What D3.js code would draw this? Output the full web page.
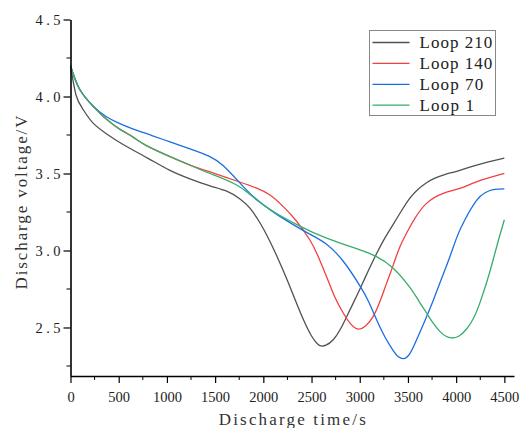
<!DOCTYPE html>
<html>
<head>
<meta charset="utf-8">
<script src="https://cdn.jsdelivr.net/npm/d3@7"></script>
<style>
  body { margin: 0; background: #fff; }
  svg { display: block; }
</style>
</head>
<body>
<div id="chart"></div>
<script>
/* DATA */
const loop210Time = [0, 57, 126, 230, 368, 541, 800, 1032, 1239, 1446, 1620, 1758, 1861, 1965, 2060, 2150, 2240, 2330, 2420, 2500, 2560, 2600, 2650, 2725, 2800, 2864, 2930, 3002, 3090, 3175, 3260, 3347, 3430, 3520, 3600, 3693, 3780, 3866, 3950, 4039, 4212, 4500];
const loop210Volt = [4.20, 4.01, 3.92, 3.83, 3.76, 3.69, 3.60, 3.52, 3.465, 3.42, 3.385, 3.335, 3.275, 3.18, 3.07, 2.95, 2.82, 2.68, 2.545, 2.445, 2.395, 2.38, 2.385, 2.42, 2.49, 2.57, 2.655, 2.75, 2.87, 2.98, 3.08, 3.17, 3.255, 3.34, 3.395, 3.44, 3.47, 3.49, 3.505, 3.52, 3.555, 3.60];

const loop140Time = [0, 92, 230, 368, 506, 645, 783, 1032, 1239, 1446, 1740, 1931, 2069, 2207, 2345, 2483, 2570, 2656, 2740, 2829, 2910, 2985, 3060, 3140, 3210, 3279, 3350, 3417, 3500, 3572, 3693, 3866, 4039, 4212, 4500];
const loop140Volt = [4.20, 4.05, 3.94, 3.855, 3.79, 3.738, 3.683, 3.61, 3.555, 3.51, 3.448, 3.405, 3.36, 3.285, 3.19, 3.068, 2.96, 2.83, 2.70, 2.594, 2.52, 2.49, 2.51, 2.572, 2.67, 2.788, 2.91, 3.025, 3.13, 3.209, 3.306, 3.371, 3.403, 3.446, 3.50];

const loop70Time = [0, 92, 230, 368, 506, 645, 852, 1032, 1239, 1446, 1585, 1740, 1896, 2069, 2200, 2345, 2500, 2656, 2829, 3002, 3090, 3175, 3260, 3347, 3400, 3458, 3520, 3590, 3680, 3762, 3850, 3935, 4010, 4091, 4212, 4300, 4384, 4500];
const loop70Volt = [4.20, 4.05, 3.94, 3.87, 3.825, 3.79, 3.745, 3.705, 3.66, 3.61, 3.55, 3.45, 3.35, 3.265, 3.21, 3.155, 3.10, 3.04, 2.93, 2.77, 2.67, 2.55, 2.44, 2.35, 2.31, 2.298, 2.33, 2.42, 2.55, 2.675, 2.82, 2.96, 3.09, 3.20, 3.325, 3.375, 3.395, 3.40];

const loop1Time = [0, 92, 230, 368, 506, 645, 783, 1032, 1239, 1446, 1723, 1931, 2138, 2373, 2656, 3002, 3175, 3347, 3520, 3610, 3693, 3760, 3831, 3890, 3952, 4030, 4108, 4180, 4246, 4320, 4384, 4440, 4500];
const loop1Volt = [4.20, 4.05, 3.94, 3.855, 3.79, 3.738, 3.683, 3.61, 3.555, 3.50, 3.425, 3.328, 3.24, 3.16, 3.08, 3.004, 2.96, 2.885, 2.76, 2.675, 2.594, 2.53, 2.475, 2.445, 2.432, 2.445, 2.49, 2.56, 2.66, 2.80, 2.94, 3.07, 3.20];

const seriesNames = ["Loop 210", "Loop 140", "Loop 70", "Loop 1"];
const seriesColors = ["#515151", "#F14040", "#1A6FDF", "#37AD6B"];

const xTicks = [0, 500, 1000, 1500, 2000, 2500, 3000, 3500, 4000, 4500];
const xMinor = [250, 750, 1250, 1750, 2250, 2750, 3250, 3750, 4250];
const yTicks = [2.5, 3.0, 3.5, 4.0, 4.5];
const yMinor = [2.25, 2.75, 3.25, 3.75, 4.25];

const xTitle = "Discharge time/s";
const yTitle = "Discharge voltage/V";

/* LAYOUT */
const width = 519, height = 428;
const margin = { left: 70.5, right: 514, top: 19.5, bottom: 376 };
const fontName = "'Liberation Serif', 'DejaVu Serif', serif";

const series = [
  { name: seriesNames[0], color: seriesColors[0], values: loop210Time.map((t, i) => ({ t, v: loop210Volt[i] })) },
  { name: seriesNames[1], color: seriesColors[1], values: loop140Time.map((t, i) => ({ t, v: loop140Volt[i] })) },
  { name: seriesNames[2], color: seriesColors[2], values: loop70Time.map((t, i) => ({ t, v: loop70Volt[i] })) },
  { name: seriesNames[3], color: seriesColors[3], values: loop1Time.map((t, i) => ({ t, v: loop1Volt[i] })) }
];

const svg = d3.select("#chart").append("svg")
  .attr("width", width)
  .attr("height", height);

const xScale = d3.scaleLinear().domain([0, 4600]).range([margin.left, margin.right]);
const yScale = d3.scaleLinear().domain([2.185, 4.5]).range([margin.bottom, margin.top]);

// lines first, axes drawn on top
const lineFunc = d3.line()
  .x(d => xScale(d.t))
  .y(d => yScale(d.v))
  .curve(d3.curveNatural);

svg.append("g")
  .selectAll("path")
  .data(series)
  .join("path")
  .attr("fill", "none")
  .attr("stroke", d => d.color)
  .attr("stroke-width", 1.3)
  .attr("d", d => lineFunc(d.values));

// x axis
const xAxis = svg.append("g")
  .attr("transform", `translate(0,${margin.bottom})`)
  .call(d3.axisBottom(xScale).tickValues(xTicks).tickSize(7).tickSizeOuter(0).tickPadding(9).tickFormat(d3.format("d")));

xAxis.append("g")
  .selectAll("line")
  .data(xMinor)
  .join("line")
  .attr("x1", d => xScale(d)).attr("x2", d => xScale(d))
  .attr("y1", 0).attr("y2", 4)
  .attr("stroke", "#000");

// y axis
const yAxis = svg.append("g")
  .attr("transform", `translate(${margin.left},0)`)
  .call(d3.axisLeft(yScale).tickValues(yTicks).tickSize(7).tickSizeOuter(0).tickPadding(3).tickFormat(d3.format(".1f")));

yAxis.append("g")
  .selectAll("line")
  .data(yMinor)
  .join("line")
  .attr("y1", d => yScale(d)).attr("y2", d => yScale(d))
  .attr("x1", 0).attr("x2", -4)
  .attr("stroke", "#000");

[xAxis, yAxis].forEach(ax => {
  ax.select(".domain").attr("stroke", "#000").attr("stroke-width", 1.6);
  ax.selectAll(".tick line").attr("stroke", "#000").attr("stroke-width", 1.2);
  ax.selectAll(".tick text")
    .attr("font-family", fontName)
    .attr("font-size", 14.5)
    .attr("fill", "#222");
});

yAxis.selectAll(".tick text")
  .attr("textLength", 25)
  .attr("lengthAdjust", "spacing");

// axis titles
svg.append("text")
  .attr("x", (margin.left + margin.right) / 2)
  .attr("y", 425)
  .attr("text-anchor", "middle")
  .attr("font-family", fontName)
  .attr("font-size", 17)
  .attr("fill", "#333")
  .attr("textLength", 147)
  .attr("lengthAdjust", "spacing")
  .text(xTitle);

svg.append("text")
  .attr("transform", "translate(27,202.5) rotate(-90)")
  .attr("text-anchor", "middle")
  .attr("font-family", fontName)
  .attr("font-size", 17)
  .attr("fill", "#333")
  .attr("textLength", 174)
  .attr("lengthAdjust", "spacing")
  .text(yTitle);

// legend
const legend = svg.append("g").attr("transform", "translate(369.5,30.5)");

legend.append("rect")
  .attr("width", 126)
  .attr("height", 85)
  .attr("fill", "#fff")
  .attr("stroke", "#888")
  .attr("stroke-width", 1);

const item = legend.selectAll("g.item")
  .data(series)
  .join("g")
  .attr("class", "item")
  .attr("transform", (d, i) => `translate(0,${12 + i * 20.9})`);

item.append("line")
  .attr("x1", 3).attr("x2", 40)
  .attr("stroke", d => d.color)
  .attr("stroke-width", 1.3);

item.append("text")
  .attr("x", 50)
  .attr("dy", "0.35em")
  .attr("font-family", fontName)
  .attr("font-size", 17)
  .attr("fill", "#222")
  .attr("textLength", d => d.name.length * 9.1)
  .attr("lengthAdjust", "spacing")
  .text(d => d.name);
</script>
</body>
</html>
